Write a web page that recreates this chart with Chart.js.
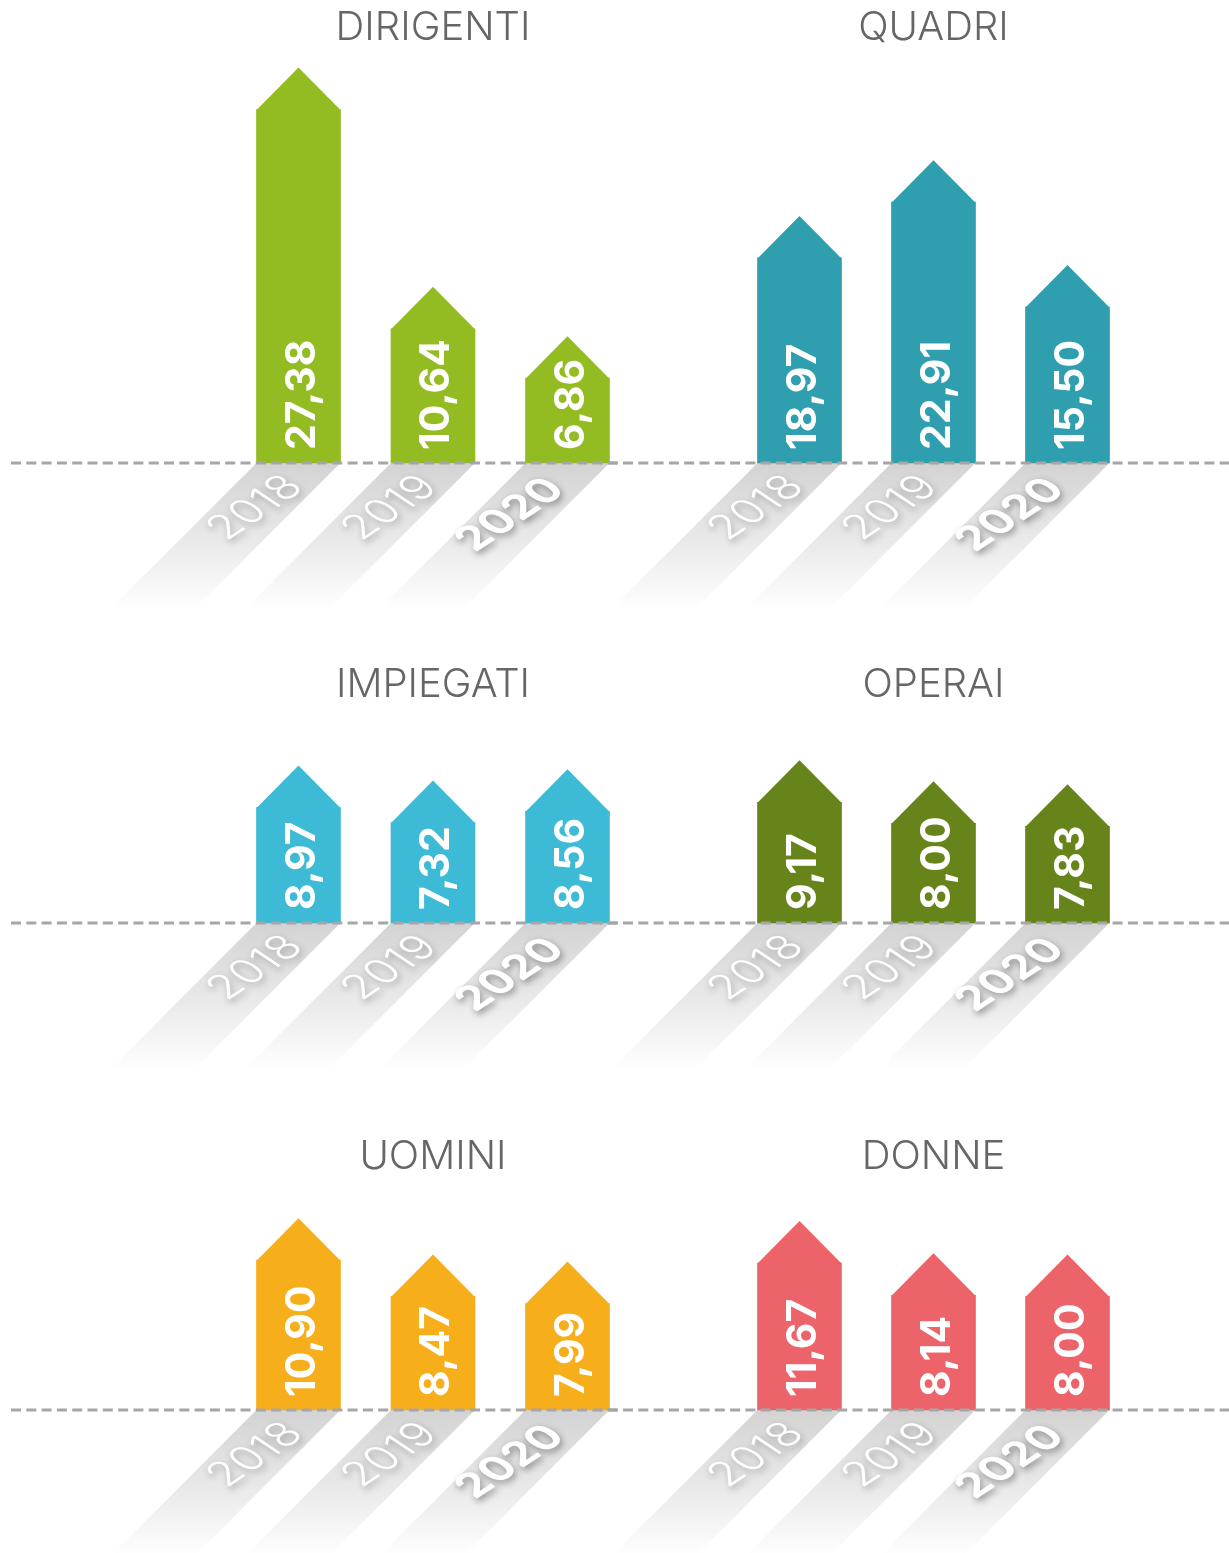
<!DOCTYPE html>
<html lang="it">
<head>
<meta charset="utf-8">
<title>Indicatori per categoria 2018-2020</title>
<script src="https://cdn.jsdelivr.net/npm/chart.js@4.4.1/dist/chart.umd.min.js"></script>
<style>
    html, body {
        margin: 0;
        padding: 0;
        background: #ffffff;
    }
    #board {
        position: relative;
        width: 1229px;
        height: 1553px;
        overflow: hidden;
    }
    #board canvas {
        position: absolute;
    }
</style>
</head>
<body>
<div id="board"></div>
<script>
// Data
const years = ['2018', '2019', '2020'];
const titles = ['DIRIGENTI', 'QUADRI', 'IMPIEGATI', 'OPERAI', 'UOMINI', 'DONNE'];
const dirigenti = [27.38, 10.64, 6.86];
const quadri = [18.97, 22.91, 15.50];
const impiegati = [8.97, 7.32, 8.56];
const operai = [9.17, 8.00, 7.83];
const uomini = [10.90, 8.47, 7.99];
const donne = [11.67, 8.14, 8.00];

// Value axis range for each panel (every panel has its own scale, bars start at yMin)
const yMin = [0.38, 4.48, -3.68, 2.41, 0.85, -4.44];
const yMax = [31.78, 33.52, 19.76, 14.40, 16.21, 20.67];

const palette = ['#93bc23', '#2f9eaf', '#3dbbd6', '#66841a', '#f6ae1b', '#ec6369'];

// Layout: rows (top, local baseline, height) and columns (left, width, paddings)
const rows = [
    { top: 0, baseline: 463, height: 623 },
    { top: 657, baseline: 266, height: 426 },
    { top: 1129, baseline: 281, height: 424 }
];
const cols = [
    { left: 0, width: 620, padLeft: 298.5, padRight: 52.5, lineFrom: 11 },
    { left: 600, width: 629, padLeft: 199.5, padRight: 161.5, lineFrom: 0 }
];

const FONT = 'Inter, "Noto Sans", sans-serif';
const SHADOW_LEN = 147;

function formatValue(v) {
    return v.toFixed(2).replace('.', ',');
}

// Draws the "house" roofs, floor shadows, year labels, values and dashed baseline
const houseBars = {
    id: 'houseBars',

    beforeDatasetsDraw(chart) {
        const ctx = chart.ctx;
        const meta = chart.getDatasetMeta(0);
        ctx.save();
        meta.data.forEach(bar => {
            const { x, base, width } = bar.getProps(['x', 'base', 'width'], true);
            const l = x - width / 2;
            const r = x + width / 2;
            const grad = ctx.createLinearGradient(0, base, 0, base + SHADOW_LEN);
            grad.addColorStop(0, '#d3d3d3');
            grad.addColorStop(0.55, '#eaeaea');
            grad.addColorStop(1, '#ffffff');
            ctx.fillStyle = grad;
            ctx.beginPath();
            ctx.moveTo(l, base);
            ctx.lineTo(r, base);
            ctx.lineTo(r - SHADOW_LEN, base + SHADOW_LEN);
            ctx.lineTo(l - SHADOW_LEN, base + SHADOW_LEN);
            ctx.closePath();
            ctx.fill();
        });
        ctx.restore();
    },

    afterDatasetsDraw(chart, args, opts) {
        const ctx = chart.ctx;
        const meta = chart.getDatasetMeta(0);
        const ds = chart.data.datasets[0];
        const labels = chart.data.labels;
        const baseY = chart.chartArea.bottom;

        ctx.save();

        // roofs
        meta.data.forEach(bar => {
            const { x, y, width } = bar.getProps(['x', 'y', 'width'], true);
            ctx.fillStyle = ds.backgroundColor;
            ctx.beginPath();
            ctx.moveTo(x - width / 2, y + 0.5);
            ctx.lineTo(x, y - width / 2);
            ctx.lineTo(x + width / 2, y + 0.5);
            ctx.closePath();
            ctx.fill();
        });

        // dashed baseline
        ctx.strokeStyle = '#a6a6a6';
        ctx.lineWidth = 3;
        ctx.setLineDash([10, 5.3]);
        ctx.lineDashOffset = opts.dashOffset;
        ctx.beginPath();
        ctx.moveTo(opts.lineFrom, baseY);
        ctx.lineTo(opts.lineTo, baseY);
        ctx.stroke();
        ctx.setLineDash([]);

        // values, rotated inside the bars
        ctx.fillStyle = '#ffffff';
        ctx.font = 'bold 41px ' + FONT;
        ctx.textAlign = 'left';
        ctx.textBaseline = 'alphabetic';
        meta.data.forEach((bar, i) => {
            const { x, base } = bar.getProps(['x', 'base'], true);
            ctx.save();
            ctx.translate(x + 16, base - 13);
            ctx.rotate(-Math.PI / 2);
            ctx.fillText(formatValue(ds.data[i]), 0, 0);
            ctx.restore();
        });

        // years lying on the floor shadows
        meta.data.forEach((bar, i) => {
            const { x, base } = bar.getProps(['x', 'base'], true);
            const last = i === labels.length - 1;
            ctx.save();
            ctx.translate(last ? x - 57 : x - 43, last ? base + 52 : base + 45);
            ctx.scale(1, 0.67);
            ctx.rotate(-Math.PI / 4);
            ctx.font = (last ? 'bold 50px ' : '300 50px ') + FONT;
            ctx.textAlign = 'center';
            ctx.textBaseline = 'middle';
            ctx.shadowColor = last ? 'rgba(0,0,0,0.4)' : 'rgba(0,0,0,0.3)';
            ctx.shadowBlur = 7;
            ctx.shadowOffsetX = 2;
            ctx.shadowOffsetY = 3;
            ctx.fillStyle = '#ffffff';
            ctx.fillText(labels[i], 0, 0);
            ctx.restore();
        });

        ctx.restore();
    }
};

const series = [dirigenti, quadri, impiegati, operai, uomini, donne];
const board = document.getElementById('board');
const charts = [];

series.forEach((values, p) => {
    const row = rows[Math.floor(p / 2)];
    const col = cols[p % 2];

    const canvas = document.createElement('canvas');
    canvas.width = col.width;
    canvas.height = row.height;
    canvas.style.left = col.left + 'px';
    canvas.style.top = row.top + 'px';
    board.appendChild(canvas);

    charts.push(new Chart(canvas, {
        type: 'bar',
        data: {
            labels: years,
            datasets: [{
                data: values,
                base: yMin[p],
                backgroundColor: palette[p],
                barThickness: 84,
                borderWidth: 0,
                clip: false
            }]
        },
        options: {
            responsive: false,
            animation: false,
            devicePixelRatio: 1,
            layout: {
                padding: {
                    left: col.padLeft,
                    right: col.padRight,
                    top: 0,
                    bottom: row.height - row.baseline
                }
            },
            plugins: {
                legend: { display: false },
                tooltip: { enabled: false },
                title: {
                    display: true,
                    text: titles[p],
                    color: '#666666',
                    font: { family: FONT, size: 40, weight: '300', lineHeight: 1.2 },
                    padding: { top: 4, bottom: 0 }
                },
                houseBars: {
                    lineFrom: col.lineFrom,
                    lineTo: col.width,
                    dashOffset: col.left + col.lineFrom - 11
                }
            },
            scales: {
                x: { display: false, offset: false },
                y: { display: false, min: yMin[p], max: yMax[p] }
            }
        },
        plugins: [houseBars]
    }));
});
</script>
</body>
</html>
